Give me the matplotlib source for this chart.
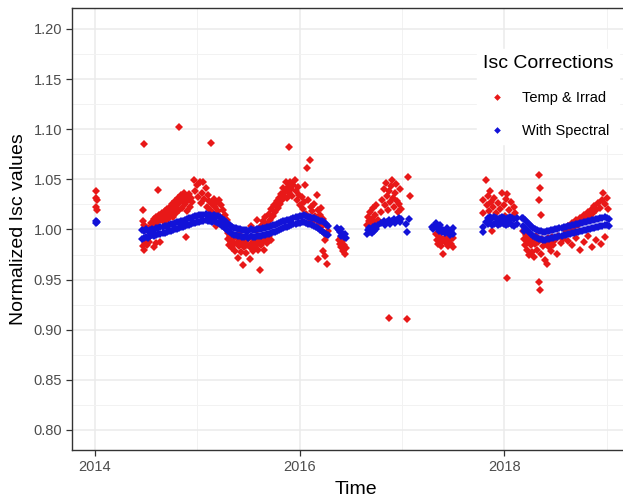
#!/usr/bin/env python
'''
normalized Isc values vs time, with and without the spectral correction
'''
from matplotlib import pyplot as plt
import numpy as np

plt.rcParams['font.family'] = ['Liberation Sans', 'DejaVu Sans']

# ---------- With Spectral (blue) ----------
# single points, isolated groups
blue_t = [2014.01, 2014.01, 2014.02,
          2016.37, 2016.38, 2016.39, 2016.40, 2016.40, 2016.41, 2016.42, 2016.43, 2016.44, 2016.45,
          2016.66, 2016.67, 2016.68, 2016.69, 2016.70, 2016.71, 2016.72, 2016.73, 2016.74, 2016.75,
          2016.77, 2016.80, 2016.82, 2016.83, 2016.85, 2016.87, 2016.88, 2016.90, 2016.92, 2016.93,
          2016.95, 2016.97, 2016.98, 2016.99, 2017.04, 2017.07, 2017.05,
          2017.29, 2017.30, 2017.31, 2017.33, 2017.34, 2017.35, 2017.36, 2017.37, 2017.38, 2017.39,
          2017.40, 2017.42, 2017.44, 2017.45, 2017.47, 2017.48, 2017.50, 2017.50,
          2017.79, 2017.79, 2017.82, 2018.17, 2018.19]
blue_v = [1.008, 1.006, 1.007,
          1.001, 0.999, 0.997, 1.000, 0.993, 0.996, 0.994, 0.992, 0.995, 0.991,
          0.995, 0.999, 1.001, 0.997, 1.000, 0.996, 1.002, 0.998, 1.003, 1.000,
          1.004, 1.006, 1.008, 1.004, 1.007, 1.009, 1.005, 1.008, 1.010, 1.006,
          1.009, 1.011, 1.007, 1.010, 1.005, 1.010, 0.997,
          1.002, 1.000, 1.003, 1.006, 1.004, 1.001, 0.998, 1.004, 1.000, 0.997,
          0.999, 0.996, 1.001, 0.997, 0.994, 0.998, 1.001, 0.995,
          0.997, 1.002, 1.007, 1.011, 0.998]

# 2014.5 - 2016.3 band: upper and lower edge of the blue band
band1_t = [2014.46, 2014.48, 2014.50, 2014.52, 2014.54, 2014.56, 2014.58, 2014.60, 2014.62, 2014.64,
           2014.66, 2014.68, 2014.70, 2014.72, 2014.74, 2014.76, 2014.78, 2014.80, 2014.82, 2014.84,
           2014.86, 2014.88, 2014.90, 2014.92, 2014.94, 2014.96, 2014.98, 2015.00, 2015.02, 2015.04,
           2015.06, 2015.08, 2015.10, 2015.12, 2015.14, 2015.16, 2015.18, 2015.20, 2015.22, 2015.24,
           2015.26, 2015.28, 2015.30, 2015.32, 2015.34, 2015.36, 2015.38, 2015.40, 2015.42, 2015.44,
           2015.46, 2015.48, 2015.50, 2015.52, 2015.54, 2015.56, 2015.58, 2015.60, 2015.62, 2015.64,
           2015.66, 2015.68, 2015.70, 2015.72, 2015.74, 2015.76, 2015.78, 2015.80, 2015.82, 2015.84,
           2015.86, 2015.88, 2015.90, 2015.92, 2015.94, 2015.96, 2015.98, 2016.00, 2016.02, 2016.04,
           2016.06, 2016.08, 2016.10, 2016.12, 2016.14, 2016.16, 2016.18, 2016.20, 2016.22, 2016.24,
           2016.26, 2016.28]
band1_hi = [0.999, 0.998, 1.000, 0.998, 0.999, 1.000, 0.999, 1.001, 1.001, 1.002,
            1.002, 1.003, 1.003, 1.004, 1.005, 1.005, 1.006, 1.007, 1.007, 1.008,
            1.008, 1.009, 1.010, 1.011, 1.011, 1.012, 1.013, 1.013, 1.014, 1.014,
            1.014, 1.015, 1.014, 1.014, 1.013, 1.014, 1.013, 1.013, 1.012, 1.010,
            1.009, 1.007, 1.005, 1.004, 1.002, 1.001, 1.001, 1.000, 1.000, 0.999,
            0.999, 0.999, 0.998, 1.000, 0.999, 0.999, 1.000, 1.000, 1.000, 1.001,
            1.001, 1.002, 1.002, 1.003, 1.004, 1.004, 1.005, 1.006, 1.007, 1.008,
            1.008, 1.009, 1.009, 1.010, 1.011, 1.012, 1.012, 1.013, 1.013, 1.014,
            1.013, 1.012, 1.012, 1.011, 1.011, 1.010, 1.009, 1.008, 1.008, 1.007,
            1.005, 1.003]
band1_lo = [0.990, 0.991, 0.992, 0.991, 0.993, 0.994, 0.993, 0.994, 0.995, 0.995,
            0.996, 0.996, 0.997, 0.998, 0.998, 0.999, 1.000, 1.000, 1.001, 1.002,
            1.002, 1.003, 1.004, 1.004, 1.005, 1.006, 1.006, 1.007, 1.007, 1.008,
            1.008, 1.009, 1.008, 1.008, 1.007, 1.008, 1.007, 1.006, 1.005, 1.003,
            1.002, 1.000, 0.998, 0.997, 0.995, 0.994, 0.994, 0.993, 0.993, 0.992,
            0.992, 0.993, 0.991, 0.993, 0.992, 0.992, 0.993, 0.993, 0.993, 0.994,
            0.994, 0.995, 0.995, 0.996, 0.997, 0.997, 0.998, 0.999, 1.000, 1.001,
            1.002, 1.002, 1.003, 1.004, 1.005, 1.005, 1.006, 1.006, 1.007, 1.007,
            1.006, 1.005, 1.005, 1.004, 1.003, 1.002, 1.001, 0.999, 0.998, 0.996,
            0.995, 0.994]

# 2017.8 - 2018.1 band
band2_t = [2017.84, 2017.86, 2017.88, 2017.90, 2017.92, 2017.94, 2017.96, 2017.98, 2018.00, 2018.02,
           2018.04, 2018.06, 2018.08, 2018.10, 2018.12]
band2_hi = [1.011, 1.012, 1.011, 1.012, 1.011, 1.010, 1.011, 1.012, 1.011, 1.010,
            1.011, 1.012, 1.011, 1.010, 1.011]
band2_lo = [1.005, 1.006, 1.004, 1.005, 1.006, 1.004, 1.005, 1.006, 1.005, 1.004,
            1.005, 1.006, 1.004, 1.003, 1.005]

# 2018.2 - 2019.0 band
band3_t = [2018.18, 2018.20, 2018.22, 2018.24, 2018.26, 2018.28, 2018.30, 2018.32, 2018.34, 2018.36,
           2018.38, 2018.40, 2018.42, 2018.44, 2018.46, 2018.48, 2018.50, 2018.52, 2018.54, 2018.56,
           2018.58, 2018.60, 2018.62, 2018.64, 2018.66, 2018.68, 2018.70, 2018.72, 2018.74, 2018.76,
           2018.78, 2018.80, 2018.82, 2018.84, 2018.86, 2018.88, 2018.90, 2018.92, 2018.94, 2018.96,
           2018.98, 2019.00, 2019.02]
band3_hi = [1.011, 1.009, 1.007, 1.005, 1.003, 1.001, 1.000, 0.999, 0.998, 0.998,
            0.997, 0.997, 0.998, 0.998, 0.999, 0.999, 1.000, 1.000, 1.001, 1.001,
            1.002, 1.002, 1.003, 1.003, 1.004, 1.004, 1.005, 1.005, 1.006, 1.006,
            1.007, 1.007, 1.008, 1.008, 1.009, 1.009, 1.010, 1.010, 1.011, 1.011,
            1.012, 1.011, 1.010]
band3_lo = [1.003, 1.001, 0.999, 0.997, 0.995, 0.993, 0.992, 0.991, 0.990, 0.990,
            0.989, 0.989, 0.990, 0.990, 0.991, 0.991, 0.992, 0.992, 0.993, 0.993,
            0.994, 0.994, 0.995, 0.995, 0.996, 0.996, 0.997, 0.997, 0.998, 0.998,
            0.999, 0.999, 1.000, 1.000, 1.001, 1.001, 1.002, 1.002, 1.003, 1.003,
            1.004, 1.004, 1.003]

# ---------- Temp & Irrad (red) ----------
red_2014_t = [2014.01, 2014.01, 2014.02, 2014.01, 2014.02,
              2014.48, 2014.47, 2014.47, 2014.48, 2014.47, 2014.48, 2014.49, 2014.50, 2014.49, 2014.51,
              2014.52, 2014.53, 2014.54, 2014.55, 2014.56, 2014.52,
              2014.57, 2014.58, 2014.59, 2014.60, 2014.61, 2014.62, 2014.62, 2014.63, 2014.64, 2014.65,
              2014.66, 2014.67, 2014.68, 2014.69, 2014.70, 2014.71, 2014.72, 2014.73, 2014.74, 2014.75,
              2014.76, 2014.77, 2014.78, 2014.79, 2014.80, 2014.81, 2014.82, 2014.82, 2014.83, 2014.84,
              2014.85, 2014.86, 2014.87, 2014.88, 2014.89, 2014.90, 2014.91, 2014.92, 2014.93, 2014.94,
              2014.95, 2014.60, 2014.64, 2014.58, 2014.89]
red_2014_v = [1.038, 1.031, 1.029, 1.022, 1.019,
              1.085, 1.019, 1.008, 1.004, 0.983, 0.980, 0.986, 0.989, 0.999, 0.984,
              0.991, 0.987, 0.997, 1.006, 1.002, 1.001,
              1.004, 1.010, 1.006, 1.012, 1.008, 1.039, 1.003, 1.014, 1.009, 1.016,
              1.011, 1.007, 1.018, 1.013, 1.020, 1.010, 1.015, 1.022, 1.017, 1.025,
              1.012, 1.020, 1.028, 1.016, 1.024, 1.031, 1.102, 1.019, 1.027, 1.034,
              1.021, 1.030, 1.036, 1.025, 1.033, 1.018, 1.029, 1.035, 1.022, 1.031,
              1.027, 0.986, 0.987, 0.982, 0.992]

red_2015_t = [2014.97, 2014.98, 2015.00, 2015.01, 2015.03, 2015.04, 2015.05, 2015.06, 2015.07, 2015.08,
              2015.09, 2015.10, 2015.11, 2015.12, 2015.13, 2015.14, 2015.15, 2015.16, 2015.17, 2015.18,
              2015.19, 2015.20, 2015.21, 2015.22, 2015.23, 2015.24, 2015.25, 2015.26, 2015.27, 2015.28,
              2015.29, 2015.30,
              2015.30, 2015.31, 2015.32, 2015.33, 2015.34, 2015.35, 2015.36, 2015.37, 2015.38, 2015.39,
              2015.40, 2015.41, 2015.42, 2015.43, 2015.44, 2015.45, 2015.45, 2015.46, 2015.47, 2015.48,
              2015.49, 2015.50, 2015.51, 2015.52, 2015.53, 2015.54, 2015.55, 2015.56, 2015.57, 2015.58,
              2015.59, 2015.60, 2015.61, 2015.62, 2015.63, 2015.64, 2015.65, 2015.66, 2015.68, 2015.70,
              2015.72, 2015.42, 2015.58, 2015.52,
              2015.58, 2015.62, 2015.64, 2015.66, 2015.68, 2015.70, 2015.71, 2015.72, 2015.74, 2015.75,
              2015.76, 2015.78, 2015.79, 2015.80, 2015.81, 2015.82, 2015.83, 2015.84, 2015.85, 2015.86,
              2015.87, 2015.88, 2015.89, 2015.90, 2015.90, 2015.91, 2015.92, 2015.93, 2015.94, 2015.95,
              2015.96, 2015.97, 2015.98, 2015.99, 2016.00]
red_2015_v = [1.049, 1.038, 1.044, 1.032, 1.047, 1.026, 1.036, 1.047, 1.030, 1.041,
              1.022, 1.034, 1.028, 1.019, 1.086, 1.025, 1.016, 1.030, 1.022, 1.003,
              1.027, 1.018, 1.029, 1.012, 1.024, 1.008, 1.019, 1.004, 1.014, 1.000,
              1.009, 0.996,
              0.990, 0.984, 0.993, 0.987, 0.981, 0.990, 0.985, 0.979, 0.992, 0.986,
              0.972, 0.983, 0.989, 0.978, 0.985, 0.965, 0.991, 0.982, 0.987, 0.977,
              0.984, 0.990, 0.971, 0.981, 0.986, 0.979, 0.988, 0.983, 0.991, 0.985,
              0.980, 0.989, 0.960, 0.984, 0.992, 0.987, 0.980, 0.990, 0.986, 0.993,
              0.989, 0.997, 0.999, 1.003,
              1.009, 1.003, 1.008, 1.012, 1.005, 1.015, 1.009, 1.020, 1.013, 1.024,
              1.017, 1.028, 1.021, 1.031, 1.025, 1.035, 1.029, 1.041, 1.033, 1.038,
              1.047, 1.031, 1.042, 1.082, 1.036, 1.047, 1.040, 1.033, 1.044, 1.049,
              1.038, 1.029, 1.042, 1.034, 1.024]

red_2016_t = [2016.02, 2016.03, 2016.04, 2016.05, 2016.06, 2016.07, 2016.08, 2016.09, 2016.10, 2016.11,
              2016.12, 2016.13, 2016.14, 2016.15, 2016.17, 2016.18, 2016.19, 2016.20, 2016.21, 2016.22,
              2016.23, 2016.24, 2016.25, 2016.26, 2016.18, 2016.23, 2016.25, 2016.27, 2016.27, 2016.28,
              2016.38, 2016.39, 2016.40, 2016.41, 2016.42, 2016.43, 2016.44, 2016.45, 2016.40,
              2016.66, 2016.67, 2016.68, 2016.69, 2016.70, 2016.71, 2016.72, 2016.73, 2016.74, 2016.75,
              2016.77,
              2016.80, 2016.81, 2016.82, 2016.83, 2016.84, 2016.85, 2016.86, 2016.87, 2016.88, 2016.89,
              2016.90, 2016.91, 2016.92, 2016.93, 2016.94, 2016.95, 2016.96, 2016.97, 2016.98, 2016.99,
              2017.06, 2017.08, 2016.87, 2017.05]
red_2016_v = [1.032, 1.020, 1.027, 1.044, 1.015, 1.061, 1.029, 1.011, 1.069, 1.022,
              1.018, 1.008, 1.025, 1.013, 1.034, 1.019, 1.006, 1.014, 1.021, 1.003,
              1.010, 0.996, 0.989, 1.004, 0.971, 0.979, 0.974, 0.966, 0.994, 0.998,
              0.989, 0.985, 0.982, 0.988, 0.979, 0.984, 0.976, 0.981, 0.992,
              1.004, 1.012, 1.008, 1.017, 1.003, 1.010, 1.021, 1.006, 1.014, 1.024,
              1.009,
              1.017, 1.029, 1.040, 1.024, 1.046, 1.033, 1.019, 1.038, 1.027, 1.043,
              1.049, 1.031, 1.022, 1.036, 1.045, 1.028, 1.017, 1.025, 1.040, 1.020,
              1.052, 1.033, 0.912, 0.911]

red_2017_t = [2017.33, 2017.34, 2017.35, 2017.37, 2017.38, 2017.39, 2017.40, 2017.41, 2017.43, 2017.44,
              2017.45, 2017.47, 2017.48, 2017.50, 2017.50,
              2017.79, 2017.79, 2017.82, 2017.83, 2017.84, 2017.85, 2017.86, 2017.87, 2017.88, 2017.89,
              2017.90, 2017.92, 2017.94, 2017.96, 2017.98, 2018.00, 2018.01, 2018.02, 2018.03, 2018.05,
              2018.07, 2018.08, 2018.10, 2018.11, 2018.03]
red_2017_v = [0.995, 0.989, 0.985, 0.992, 0.983, 0.988, 0.976, 0.990, 0.986, 0.992,
              0.983, 0.989, 0.985, 0.991, 0.982,
              1.029, 1.016, 1.049, 1.024, 1.033, 1.018, 1.038, 1.027, 0.998, 1.022,
              1.031, 1.016, 1.026, 1.020, 1.036, 1.024, 1.013, 1.030, 1.035, 1.019,
              1.027, 1.012, 1.022, 1.016, 0.952]

red_2018_t = [2018.34, 2018.35, 2018.34, 2018.36, 2018.34, 2018.35,
              2018.18, 2018.19, 2018.20, 2018.21, 2018.22, 2018.23, 2018.24, 2018.25, 2018.26, 2018.27,
              2018.28, 2018.29, 2018.30, 2018.31, 2018.32, 2018.33, 2018.36, 2018.37, 2018.38, 2018.39,
              2018.40, 2018.41, 2018.42, 2018.43, 2018.44, 2018.45, 2018.46, 2018.47, 2018.48, 2018.50,
              2018.52, 2018.53, 2018.55, 2018.57,
              2018.60, 2018.62, 2018.64, 2018.66, 2018.68, 2018.70, 2018.72, 2018.74, 2018.76, 2018.78,
              2018.80, 2018.82, 2018.84, 2018.86, 2018.87, 2018.88, 2018.90, 2018.92, 2018.94, 2018.96,
              2018.97, 2018.98, 2019.00, 2019.01,
              2018.62, 2018.66, 2018.70, 2018.74, 2018.78, 2018.82, 2018.86, 2018.90, 2018.95, 2018.98]
red_2018_v = [1.054, 1.041, 1.029, 1.014, 0.948, 0.940,
              0.998, 0.990, 0.984, 0.994, 0.980, 0.988, 0.975, 0.992, 0.984, 0.978,
              0.989, 0.973, 0.985, 0.993, 0.980, 0.987, 0.976, 0.990, 0.983, 0.988,
              0.970, 0.985, 0.966, 0.991, 0.982, 0.987, 0.979, 0.992, 0.984, 0.989,
              0.976, 0.993, 0.986, 0.990,
              0.998, 1.003, 1.000, 1.006, 1.002, 1.009, 1.004, 1.011, 1.007, 1.014,
              1.010, 1.017, 1.013, 1.020, 1.016, 1.023, 1.019, 1.026, 1.021, 1.029,
              1.036, 1.025, 1.031, 1.020,
              0.988, 0.984, 0.991, 0.980, 0.987, 0.993, 0.982, 0.989, 0.985, 0.992]

yticks = [0.80, 0.85, 0.90, 0.95, 1.00, 1.05, 1.10, 1.15, 1.20]
xticks = [2014, 2016, 2018]

red_t = red_2014_t + red_2015_t + red_2016_t + red_2017_t + red_2018_t
red_v = red_2014_v + red_2015_v + red_2016_v + red_2017_v + red_2018_v
blu_t = blue_t + band1_t + band1_t + band2_t + band2_t + band3_t + band3_t
blu_v = blue_v + band1_hi + band1_lo + band2_hi + band2_lo + band3_hi + band3_lo

fig = plt.figure(figsize=(6.23, 5.0), dpi=100)
# panel runs past the right edge of the picture (the original is cropped)
ax = fig.add_axes([72/623., 50/500., 568/623., 442/500.])

ax.plot(red_t, red_v, ls='none', marker='D', markersize=4.0, color='#e81818',
        markeredgewidth=0, label='Temp & Irrad')
ax.plot(blu_t, blu_v, ls='none', marker='D', markersize=4.0, color='#1212d8',
        markeredgewidth=0, label='With Spectral')

ax.set_xlim(2013.775, 2019.327)
ax.set_ylim(0.780, 1.2209)
ax.set_xticks(xticks)
ax.set_xticklabels(['%i' % x for x in xticks])
ax.set_xticks([2015, 2017, 2019], minor=True)
ax.set_yticks(yticks)
ax.set_yticklabels(['%.2f' % y for y in yticks])
ax.set_yticks(np.array(yticks[:-1]) + 0.025, minor=True)

ax.set_axisbelow(True)
ax.grid(which='major', color='#ebebeb', lw=1.1)
ax.grid(which='minor', color='#f2f2f2', lw=0.7)
ax.tick_params(which='major', length=4.5, width=0.9, color='#333333',
               labelsize=10.5, labelcolor='#4d4d4d', pad=2.5)
ax.tick_params(which='minor', length=0)
for side in ['left', 'bottom', 'top', 'right']:
    ax.spines[side].set_color('#333333')
    ax.spines[side].set_linewidth(1.0)

ax.set_xlabel('Time', fontsize=14, labelpad=5)
ax.set_ylabel('Normalized Isc values', fontsize=14, labelpad=5)

leg = ax.legend(title='Isc Corrections', loc='upper left',
                bbox_to_anchor=(470/623., 1 - 42/500.), bbox_transform=fig.transFigure,
                fontsize=10.5, title_fontsize=14, frameon=True, fancybox=False,
                framealpha=1, edgecolor='white', facecolor='white',
                markerscale=0.85, handlelength=1.9, handletextpad=0.8,
                labelspacing=1.3, borderpad=0.4)
leg._legend_box.align = 'left'

plt.savefig('out.png', dpi=100)
